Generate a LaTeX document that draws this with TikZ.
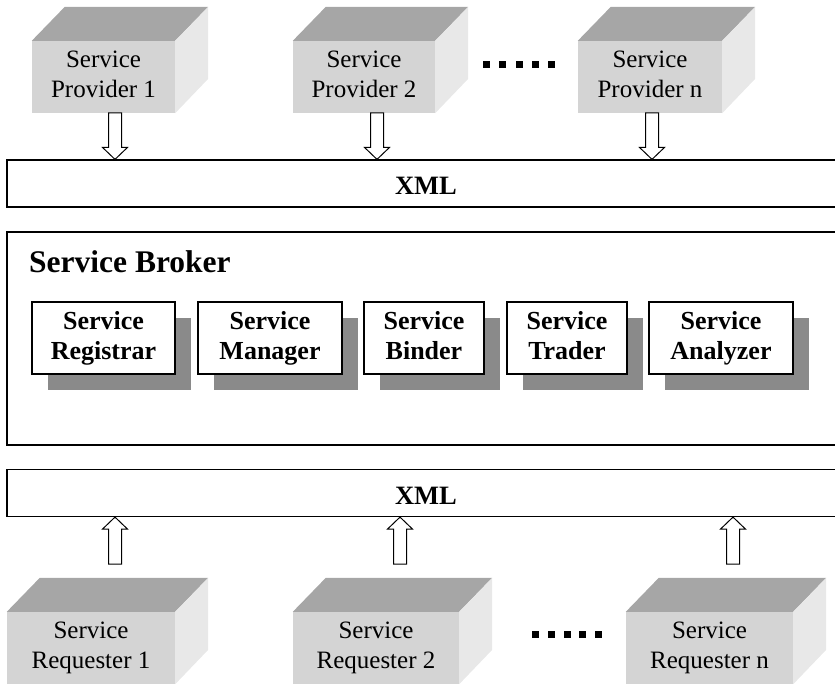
\documentclass[tikz,border=0pt]{standalone}
\usepackage{fontspec}
\setmainfont{Liberation Serif}
\usetikzlibrary{calc,shadows}
\definecolor{topface}{HTML}{A6A6A6}
\definecolor{frontface}{HTML}{D4D4D4}
\definecolor{sideface}{HTML}{E8E8E8}
\definecolor{shadowgray}{HTML}{8A8A8A}
\tikzset{
  cubefront/.style={fill=frontface, minimum width=#1, minimum height=72pt, inner sep=0pt,
    align=center, font=\fontsize{25}{30}\selectfont, text depth=5.4pt},
  bar/.style={draw, line width=1.2pt, fill=white, minimum width=838pt, minimum height=47pt,
    inner sep=0pt, font=\bfseries\fontsize{26.5}{30}\selectfont, text height=23pt, text depth=0pt},
  brokerbox/.style={draw, line width=1.2pt, minimum width=838pt, minimum height=213pt, inner sep=0pt},
  innerbox/.style={draw, line width=1.2pt, fill=white, minimum width=#1, minimum height=72pt,
    inner sep=0pt, align=center, font=\bfseries\fontsize{26}{30}\selectfont, text depth=5.6pt,
    drop shadow={shadow xshift=16pt, shadow yshift=-16pt, opacity=1, fill=shadowgray}},
  hollowdown/.style={draw, fill=white, line width=1pt,
    to path={let \p1=(\tikztostart), \p2=(\tikztotarget) in
      (\x1-6.5pt,\y1) -- (\x1-6.5pt,\y2+12pt) -- (\x1-12.5pt,\y2+12pt) -- (\x1,\y2)
      -- (\x1+12.5pt,\y2+12pt) -- (\x1+6.5pt,\y2+12pt) -- (\x1+6.5pt,\y1) -- cycle}},
  hollowup/.style={draw, fill=white, line width=1pt,
    to path={let \p1=(\tikztostart), \p2=(\tikztotarget) in
      (\x1-6.5pt,\y1) -- (\x1-6.5pt,\y2-12pt) -- (\x1-12.5pt,\y2-12pt) -- (\x1,\y2)
      -- (\x1+12.5pt,\y2-12pt) -- (\x1+6.5pt,\y2-12pt) -- (\x1+6.5pt,\y1) -- cycle}},
}
\begin{document}
\begin{tikzpicture}[x=1pt, y=-1pt]
\useasboundingbox (0,0) rectangle (835,684);
\clip (0,0) rectangle (835,684);

% providers
\node[cubefront=143pt] (p1) at (103.5,77) {Service\\Provider 1};
\node[cubefront=142pt] (p2) at (364,77) {Service\\Provider 2};
\node[cubefront=144pt] (pn) at (650,77) {Service\\Provider n};
\foreach \n in {p1,p2,pn}{
  \fill[topface] (\n.north west) -- ++(33,-34) -- ($(\n.north east)+(33,-34)$) -- (\n.north east) -- cycle;
  \fill[sideface] (\n.north east) -- ++(33,-34) -- ++(0,72) -- (\n.south east) -- cycle;
}
\foreach \i in {0,...,4} \fill (483+\i*16.25,61.5) rectangle ++(7,7);

% top XML bar
\node[bar] (xmltop) at (426,183.5) {XML};
\coordinate (a1) at (115,113);
\coordinate (a2) at (377,113);
\coordinate (an) at (652,113);
\draw[hollowdown] (a1) to (a1 |- xmltop.north);
\draw[hollowdown] (a2) to (a2 |- xmltop.north);
\draw[hollowdown] (an) to (an |- xmltop.north);

% broker
\node[brokerbox] (broker) at (426,338.5) {};
\node[anchor=base west, inner sep=0pt, font=\bfseries\fontsize{31.5}{36}\selectfont] (brokertitle) at (29,273) {Service Broker};
\node[innerbox=143pt] (reg) at (103.5,338) {Service\\Registrar};
\node[innerbox=144pt] (man) at (270,338) {Service\\Manager};
\node[innerbox=120pt] (bin) at (424,338) {Service\\Binder};
\node[innerbox=120pt] (tra) at (567,338) {Service\\Trader};
\node[innerbox=144pt] (ana) at (721,338) {Service\\Analyzer};

% bottom XML bar
\node[bar] (xmlbot) at (426,493) {XML};

% requesters
\node[cubefront=168pt] (r1) at (91,648) {Service\\Requester 1};
\node[cubefront=166pt] (r2) at (376,648) {Service\\Requester 2};
\node[cubefront=167pt] (rn) at (709.5,648) {Service\\Requester n};
\foreach \n in {r1,r2,rn}{
  \fill[topface] (\n.north west) -- ++(33,-34) -- ($(\n.north east)+(33,-34)$) -- (\n.north east) -- cycle;
  \fill[sideface] (\n.north east) -- ++(33,-34) -- ++(0,72) -- (\n.south east) -- cycle;
}
\foreach \i in {0,...,4} \fill (532+\i*15.75,630.5) rectangle ++(7,7);

\coordinate (b1) at (115,564);
\coordinate (b2) at (400,564);
\coordinate (bn) at (733,564);
\draw[hollowup] (b1) to (b1 |- xmlbot.south);
\draw[hollowup] (b2) to (b2 |- xmlbot.south);
\draw[hollowup] (bn) to (bn |- xmlbot.south);
\end{tikzpicture}
\end{document}
